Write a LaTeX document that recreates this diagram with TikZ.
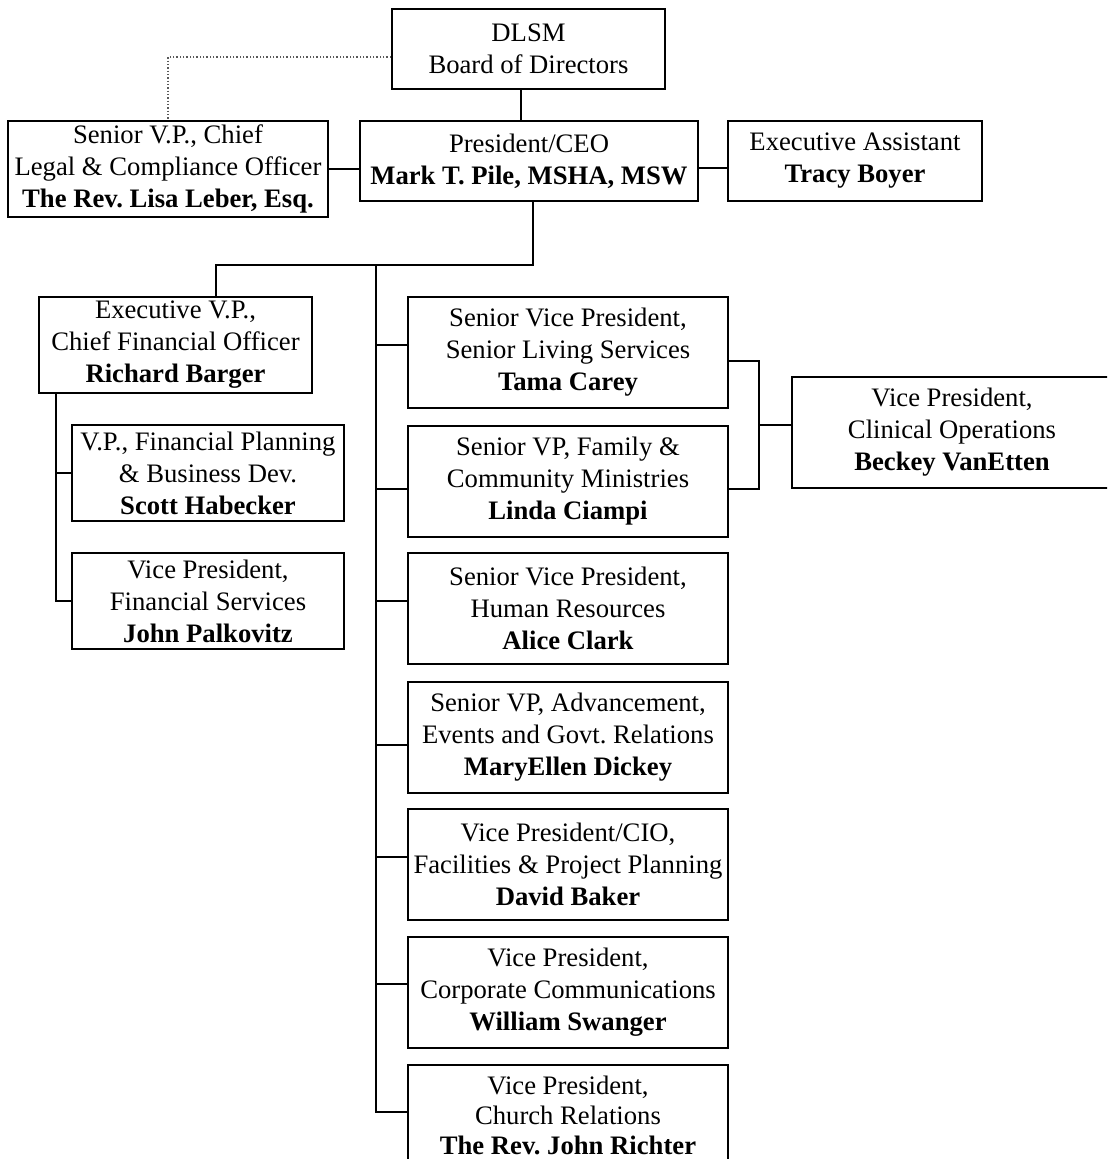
\documentclass[tikz,border=0pt]{standalone}
\usepackage{fontspec}
\setmainfont{Liberation Serif}
\frenchspacing
\begin{document}
\begin{tikzpicture}[x=0.75pt,y=-0.75pt,
  box/.style={draw,line width=1.5pt,align=center,inner sep=0pt,
    font=\fontsize{20pt}{24pt}\selectfont\frenchspacing},
  rbox/.style={box,minimum width=240pt,minimum height=83.25pt},
  conn/.style={line width=1.5pt},
  dots/.style={line width=1pt,gray!70!black,dash pattern=on 1pt off 1.5pt}]
\useasboundingbox (0,0) rectangle (1107,1159);
\clip (0,0) rectangle (1107,1159);
% top row
\node[box,minimum width=204.75pt,minimum height=60pt] (board) at (528.5,49) {DLSM\\Board of Directors};
\node[box,minimum width=240pt,minimum height=72pt] (legal) at (168,169) {Senior V.P., Chief\\Legal \& Compliance Officer\\\textbf{The Rev. Lisa Leber, Esq.}};
\node[box,minimum width=253.5pt,minimum height=60pt] (pres) at (529,161) {President/CEO\\\textbf{Mark T. Pile, MSHA, MSW}};
\node[box,minimum width=190.5pt,minimum height=60pt] (exec) at (855,161) {Executive Assistant\\\textbf{Tracy Boyer}};
% finance
\node[box,minimum width=204.75pt,minimum height=72pt] (cfo) at (175.5,345) {Executive V.P.,\\Chief Financial Officer\\\textbf{Richard Barger}};
\node[box,minimum width=204pt,minimum height=72pt] (fp) at (208,473) {V.P., Financial Planning\\\& Business Dev.\\\textbf{Scott Habecker}};
\node[box,minimum width=204pt,minimum height=72pt] (fs) at (208,601) {Vice President,\\Financial Services\\\textbf{John Palkovitz}};
% right column
\node[rbox] (r1) at (568,352.5) {Senior Vice President,\\Senior Living Services\\\textbf{Tama Carey}};
\node[rbox] (r2) at (568,481) {Senior VP, Family \&\\Community Ministries\\\textbf{Linda Ciampi}};
\node[rbox] (r3) at (568,608.5) {Senior Vice President,\\Human Resources\\\textbf{Alice Clark}};
\node[rbox] (r4) at (568,737) {Senior VP, Advancement,\\Events and Govt. Relations\\\textbf{MaryEllen Dickey}};
\node[rbox] (r5) at (568,864.5) {Vice President/CIO,\\Facilities \& Project Planning\\\textbf{David Baker}};
\node[rbox] (r6) at (568,992.5) {Vice President,\\Corporate Communications\\\textbf{William Swanger}};
\node[box,minimum width=240pt,minimum height=75pt,font=\fontsize{20pt}{22.5pt}\selectfont] (r7) at (568,1115) {Vice President,\\Church Relations\\\textbf{The Rev. John Richter}};
\node[rbox] (clin) at (952,432.5) {Vice President,\\Clinical Operations\\\textbf{Beckey VanEtten}};
% connectors top
\draw[conn] ([xshift=-6pt]board.south) -- ([xshift=-6pt]board.south |- pres.north);
\draw[dots] ([yshift=-6pt]board.west) -| (legal.north);
\draw[conn] (legal.east) -- (legal.east -| pres.west);
\draw[conn] ([yshift=-5pt]pres.east) -- ([yshift=-5pt]exec.west);
% junctions
\coordinate (j1) at (533,265);
\coordinate (j2) at (216,265);
\coordinate (s0) at (376,265);
\draw[conn] ([xshift=3pt]pres.south) -- (j1) -- (j2) -- (j2 |- cfo.north);
% main spine
\coordinate (b1) at (376,345);
\coordinate (b2) at (376,489);
\coordinate (b3) at (376,601);
\coordinate (b4) at (376,745);
\coordinate (b5) at (376,857);
\coordinate (b6) at (376,984);
\coordinate (b7) at (376,1112);
\draw[conn] (s0) -- (b7) -- (b7 -| r7.west);
\foreach \b/\r in {b1/r1,b2/r2,b3/r3,b4/r4,b5/r5,b6/r6}
  \draw[conn] (\b) -- (\b -| \r.west);
% finance spine
\coordinate (c1) at (56,473);
\coordinate (c2) at (56,601);
\draw[conn] (cfo.south -| c1) -- (c2) -- (c2 -| fs.west);
\draw[conn] (c1) -- (c1 -| fp.west);
% clinical
\coordinate (d1) at (759,361);
\coordinate (d2) at (759,489);
\coordinate (d3) at (759,425);
\draw[conn] (d1 -| r1.east) -- (d1) -- (d2) -- (d2 -| r2.east);
\draw[conn] (d3) -- (d3 -| clin.west);
\end{tikzpicture}
\end{document}
